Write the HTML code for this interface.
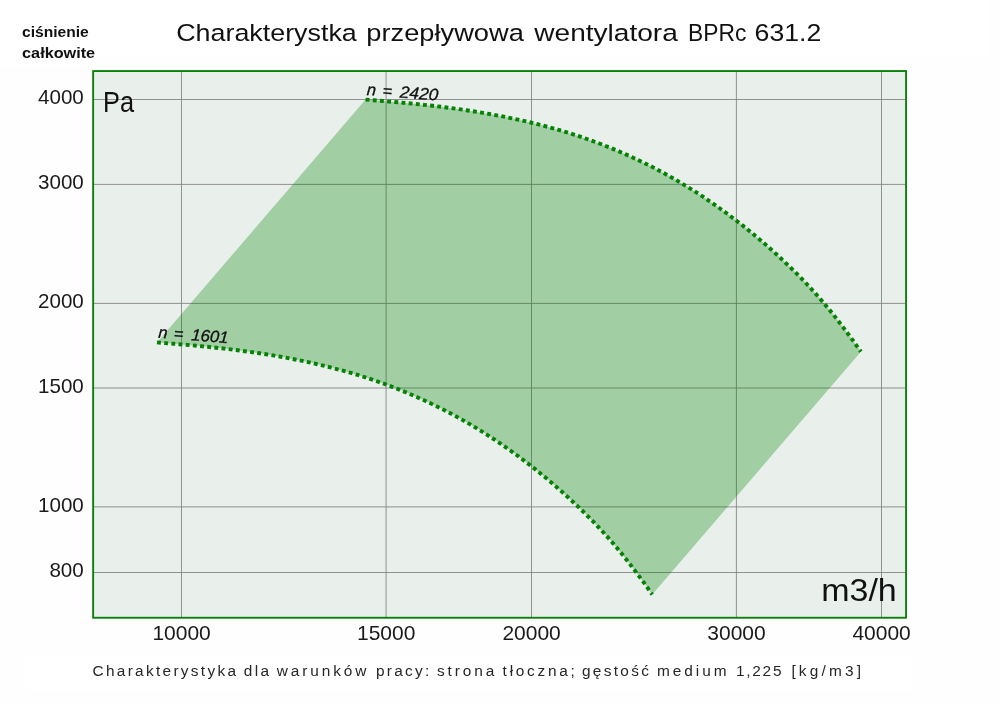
<!DOCTYPE html><html lang="pl"><head><meta charset="utf-8"><title>Charakterystka przepływowa wentylatora BPRc 631.2</title>
<style>html,body{margin:0;padding:0;background:#fefefe;}body{width:1000px;height:706px;overflow:hidden;font-family:"Liberation Sans",sans-serif;}svg{display:block;}text{font-family:"Liberation Sans",sans-serif;}</style></head><body>
<svg width="1000" height="706" viewBox="0 0 1000 706">
<rect x="0" y="0" width="1000" height="706" fill="#fefefe"/>
<rect x="0" y="0" width="96" height="66" fill="#ffffff"/>
<rect x="96" y="0" width="894" height="57" fill="#ffffff"/>
<rect x="25" y="655" width="888" height="35" fill="#ffffff"/>
<rect x="93.15" y="71.05" width="812.9" height="546.7" fill="#e9efeb"/>
<line x1="181.5" y1="72" x2="181.5" y2="617" stroke="#808080" stroke-opacity="0.85" stroke-width="1"/>
<line x1="386.1" y1="72" x2="386.1" y2="617" stroke="#808080" stroke-opacity="0.85" stroke-width="1"/>
<line x1="531.5" y1="72" x2="531.5" y2="617" stroke="#808080" stroke-opacity="0.85" stroke-width="1"/>
<line x1="736.4" y1="72" x2="736.4" y2="617" stroke="#808080" stroke-opacity="0.85" stroke-width="1"/>
<line x1="881.5" y1="72" x2="881.5" y2="617" stroke="#808080" stroke-opacity="0.85" stroke-width="1"/>
<line x1="94" y1="99.5" x2="905" y2="99.5" stroke="#808080" stroke-opacity="0.85" stroke-width="1"/>
<line x1="94" y1="184.4" x2="905" y2="184.4" stroke="#808080" stroke-opacity="0.85" stroke-width="1"/>
<line x1="94" y1="303.4" x2="905" y2="303.4" stroke="#808080" stroke-opacity="0.85" stroke-width="1"/>
<line x1="94" y1="388.0" x2="905" y2="388.0" stroke="#808080" stroke-opacity="0.85" stroke-width="1"/>
<line x1="94" y1="506.9" x2="905" y2="506.9" stroke="#808080" stroke-opacity="0.85" stroke-width="1"/>
<line x1="94" y1="572.5" x2="905" y2="572.5" stroke="#808080" stroke-opacity="0.85" stroke-width="1"/>
<path d="M365.6 99.6 L374.0 100.3 L382.4 101.0 L390.8 101.7 L399.2 102.4 L407.6 103.2 L416.0 104.0 L424.4 104.9 L432.8 105.8 L441.2 106.8 L449.5 107.9 L457.9 109.0 L466.3 110.2 L474.7 111.5 L483.1 112.9 L491.5 114.3 L499.9 115.9 L508.3 117.6 L516.7 119.3 L525.1 121.2 L533.5 123.2 L541.9 125.3 L550.3 127.6 L558.7 129.9 L567.1 132.4 L575.5 135.1 L583.9 137.9 L592.3 140.9 L600.7 144.0 L609.1 147.3 L617.4 150.7 L625.8 154.4 L634.2 158.2 L642.6 162.2 L651.0 166.3 L659.4 170.7 L667.8 175.3 L676.2 180.1 L684.6 185.1 L693.0 190.2 L701.4 195.7 L709.8 201.3 L718.2 207.2 L726.6 213.2 L735.0 219.6 L743.4 226.1 L751.8 232.9 L760.2 239.9 L768.6 247.2 L777.0 254.8 L785.3 262.6 L793.7 270.7 L802.1 279.1 L810.5 288.0 L818.9 297.3 L827.3 307.2 L835.7 317.6 L844.1 328.6 L852.5 339.9 L860.9 351.7 L652.3 594.5 L643.9 582.7 L635.5 571.4 L627.1 560.4 L618.7 550.0 L610.3 540.1 L601.9 530.8 L593.5 521.9 L585.1 513.5 L576.7 505.4 L568.4 497.6 L560.0 490.0 L551.6 482.7 L543.2 475.7 L534.8 468.9 L526.4 462.4 L518.0 456.0 L509.6 450.0 L501.2 444.1 L492.8 438.5 L484.4 433.0 L476.0 427.9 L467.6 422.9 L459.2 418.1 L450.8 413.5 L442.4 409.1 L434.0 405.0 L425.6 401.0 L417.2 397.2 L408.8 393.5 L400.5 390.1 L392.1 386.8 L383.7 383.7 L375.3 380.7 L366.9 377.9 L358.5 375.2 L350.1 372.7 L341.7 370.4 L333.3 368.1 L324.9 366.0 L316.5 364.0 L308.1 362.1 L299.7 360.4 L291.3 358.7 L282.9 357.1 L274.5 355.7 L266.1 354.3 L257.7 353.0 L249.3 351.8 L240.9 350.7 L232.6 349.6 L224.2 348.6 L215.8 347.7 L207.4 346.8 L199.0 346.0 L190.6 345.2 L182.2 344.5 L173.8 343.8 L165.4 343.1 L157.0 342.4 Z" fill="#008000" fill-opacity="0.3"/>
<path d="M365.6 99.6 L374.0 100.3 L382.4 101.0 L390.8 101.7 L399.2 102.4 L407.6 103.2 L416.0 104.0 L424.4 104.9 L432.8 105.8 L441.2 106.8 L449.5 107.9 L457.9 109.0 L466.3 110.2 L474.7 111.5 L483.1 112.9 L491.5 114.3 L499.9 115.9 L508.3 117.6 L516.7 119.3 L525.1 121.2 L533.5 123.2 L541.9 125.3 L550.3 127.6 L558.7 129.9 L567.1 132.4 L575.5 135.1 L583.9 137.9 L592.3 140.9 L600.7 144.0 L609.1 147.3 L617.4 150.7 L625.8 154.4 L634.2 158.2 L642.6 162.2 L651.0 166.3 L659.4 170.7 L667.8 175.3 L676.2 180.1 L684.6 185.1 L693.0 190.2 L701.4 195.7 L709.8 201.3 L718.2 207.2 L726.6 213.2 L735.0 219.6 L743.4 226.1 L751.8 232.9 L760.2 239.9 L768.6 247.2 L777.0 254.8 L785.3 262.6 L793.7 270.7 L802.1 279.1 L810.5 288.0 L818.9 297.3 L827.3 307.2 L835.7 317.6 L844.1 328.6 L852.5 339.9 L860.9 351.7" fill="none" stroke="#048204" stroke-width="3.9" stroke-dasharray="3.9 3.3"/>
<path d="M157.0 342.4 L165.4 343.1 L173.8 343.8 L182.2 344.5 L190.6 345.2 L199.0 346.0 L207.4 346.8 L215.8 347.7 L224.2 348.6 L232.6 349.6 L240.9 350.7 L249.3 351.8 L257.7 353.0 L266.1 354.3 L274.5 355.7 L282.9 357.1 L291.3 358.7 L299.7 360.4 L308.1 362.1 L316.5 364.0 L324.9 366.0 L333.3 368.1 L341.7 370.4 L350.1 372.7 L358.5 375.2 L366.9 377.9 L375.3 380.7 L383.7 383.7 L392.1 386.8 L400.5 390.1 L408.8 393.5 L417.2 397.2 L425.6 401.0 L434.0 405.0 L442.4 409.1 L450.8 413.5 L459.2 418.1 L467.6 422.9 L476.0 427.9 L484.4 433.0 L492.8 438.5 L501.2 444.1 L509.6 450.0 L518.0 456.0 L526.4 462.4 L534.8 468.9 L543.2 475.7 L551.6 482.7 L560.0 490.0 L568.4 497.6 L576.7 505.4 L585.1 513.5 L593.5 521.9 L601.9 530.8 L610.3 540.1 L618.7 550.0 L627.1 560.4 L635.5 571.4 L643.9 582.7 L652.3 594.5" fill="none" stroke="#048204" stroke-width="3.9" stroke-dasharray="3.9 3.3"/>
<text x="103.0" y="111.8" font-size="29.8" textLength="31.0" lengthAdjust="spacingAndGlyphs" text-anchor="start" fill="#111">Pa</text>
<text x="821.2" y="600.7" font-size="31" textLength="75.6" lengthAdjust="spacingAndGlyphs" text-anchor="start" fill="#111">m3/h</text>
<rect x="93.15" y="71.05" width="812.9" height="546.7" fill="none" stroke="#058005" stroke-width="1.85"/>
<g transform="translate(367.0,95.0) rotate(4.4)"><text y="0.0" font-size="16.5" font-style="italic" fill="#111" stroke="#111" stroke-width="0.3"><tspan x="-0.5" textLength="9.2" lengthAdjust="spacingAndGlyphs">n</tspan> <tspan x="15.2" textLength="9.5" lengthAdjust="spacingAndGlyphs">=</tspan> <tspan x="32.6" textLength="38.6" lengthAdjust="spacingAndGlyphs">2420</tspan></text></g>
<g transform="translate(158.4,337.8) rotate(4.4)"><text y="0.0" font-size="16.5" font-style="italic" fill="#111" stroke="#111" stroke-width="0.3"><tspan x="-0.5" textLength="9.2" lengthAdjust="spacingAndGlyphs">n</tspan> <tspan x="15.2" textLength="9.5" lengthAdjust="spacingAndGlyphs">=</tspan> <tspan x="32.6" textLength="37.2" lengthAdjust="spacingAndGlyphs">1601</tspan></text></g>
<text x="22.1" y="36.8" font-size="14" textLength="66.7" lengthAdjust="spacingAndGlyphs" text-anchor="start" font-weight="bold" fill="#111">ciśnienie</text>
<text x="22.1" y="57.5" font-size="14" textLength="73.0" lengthAdjust="spacingAndGlyphs" text-anchor="start" font-weight="bold" fill="#111">całkowite</text>
<text y="41.0" font-size="24.5" fill="#111"><tspan x="176.2" textLength="180.6" lengthAdjust="spacingAndGlyphs">Charakterystka</tspan> <tspan x="366.3" textLength="157.5" lengthAdjust="spacingAndGlyphs">przepływowa</tspan> <tspan x="534.3" textLength="143.5" lengthAdjust="spacingAndGlyphs">wentylatora</tspan> <tspan x="688.0" textLength="58.3" lengthAdjust="spacingAndGlyphs">BPRc</tspan> <tspan x="754.6" textLength="66.7" lengthAdjust="spacingAndGlyphs">631.2</tspan></text>
<text x="38.0" y="104.4" font-size="21" textLength="45.8" lengthAdjust="spacingAndGlyphs" text-anchor="start" fill="#1a1a1a">4000</text>
<text x="38.0" y="189.3" font-size="21" textLength="45.8" lengthAdjust="spacingAndGlyphs" text-anchor="start" fill="#1a1a1a">3000</text>
<text x="38.0" y="308.3" font-size="21" textLength="45.8" lengthAdjust="spacingAndGlyphs" text-anchor="start" fill="#1a1a1a">2000</text>
<text x="38.0" y="392.9" font-size="21" textLength="45.8" lengthAdjust="spacingAndGlyphs" text-anchor="start" fill="#1a1a1a">1500</text>
<text x="38.0" y="511.8" font-size="21" textLength="45.8" lengthAdjust="spacingAndGlyphs" text-anchor="start" fill="#1a1a1a">1000</text>
<text x="49.4" y="577.4" font-size="21" textLength="34.4" lengthAdjust="spacingAndGlyphs" text-anchor="start" fill="#1a1a1a">800</text>
<text x="152.4" y="640.0" font-size="20.8" textLength="58.4" lengthAdjust="spacingAndGlyphs" text-anchor="start" fill="#1a1a1a">10000</text>
<text x="357.0" y="640.0" font-size="20.8" textLength="58.4" lengthAdjust="spacingAndGlyphs" text-anchor="start" fill="#1a1a1a">15000</text>
<text x="502.4" y="640.0" font-size="20.8" textLength="58.4" lengthAdjust="spacingAndGlyphs" text-anchor="start" fill="#1a1a1a">20000</text>
<text x="707.3" y="640.0" font-size="20.8" textLength="58.4" lengthAdjust="spacingAndGlyphs" text-anchor="start" fill="#1a1a1a">30000</text>
<text x="852.4" y="640.0" font-size="20.8" textLength="58.4" lengthAdjust="spacingAndGlyphs" text-anchor="start" fill="#1a1a1a">40000</text>
<text y="675.8" font-size="15.4" fill="#262626"><tspan x="92.5" textLength="143.5" lengthAdjust="spacing">Charakterystyka</tspan> <tspan x="243.8" textLength="25.2" lengthAdjust="spacing">dla</tspan> <tspan x="276.8" textLength="89.6" lengthAdjust="spacing">warunków</tspan> <tspan x="376.0" textLength="53.3" lengthAdjust="spacing">pracy:</tspan> <tspan x="437.0" textLength="57.3" lengthAdjust="spacing">strona</tspan> <tspan x="502.6" textLength="72.3" lengthAdjust="spacing">tłoczna;</tspan> <tspan x="582.0" textLength="66.9" lengthAdjust="spacing">gęstość</tspan> <tspan x="657.0" textLength="69.6" lengthAdjust="spacing">medium</tspan> <tspan x="735.9" textLength="45.6" lengthAdjust="spacing">1,225</tspan> <tspan x="791.4" textLength="69.6" lengthAdjust="spacing">[kg/m3]</tspan></text>
</svg></body></html>
